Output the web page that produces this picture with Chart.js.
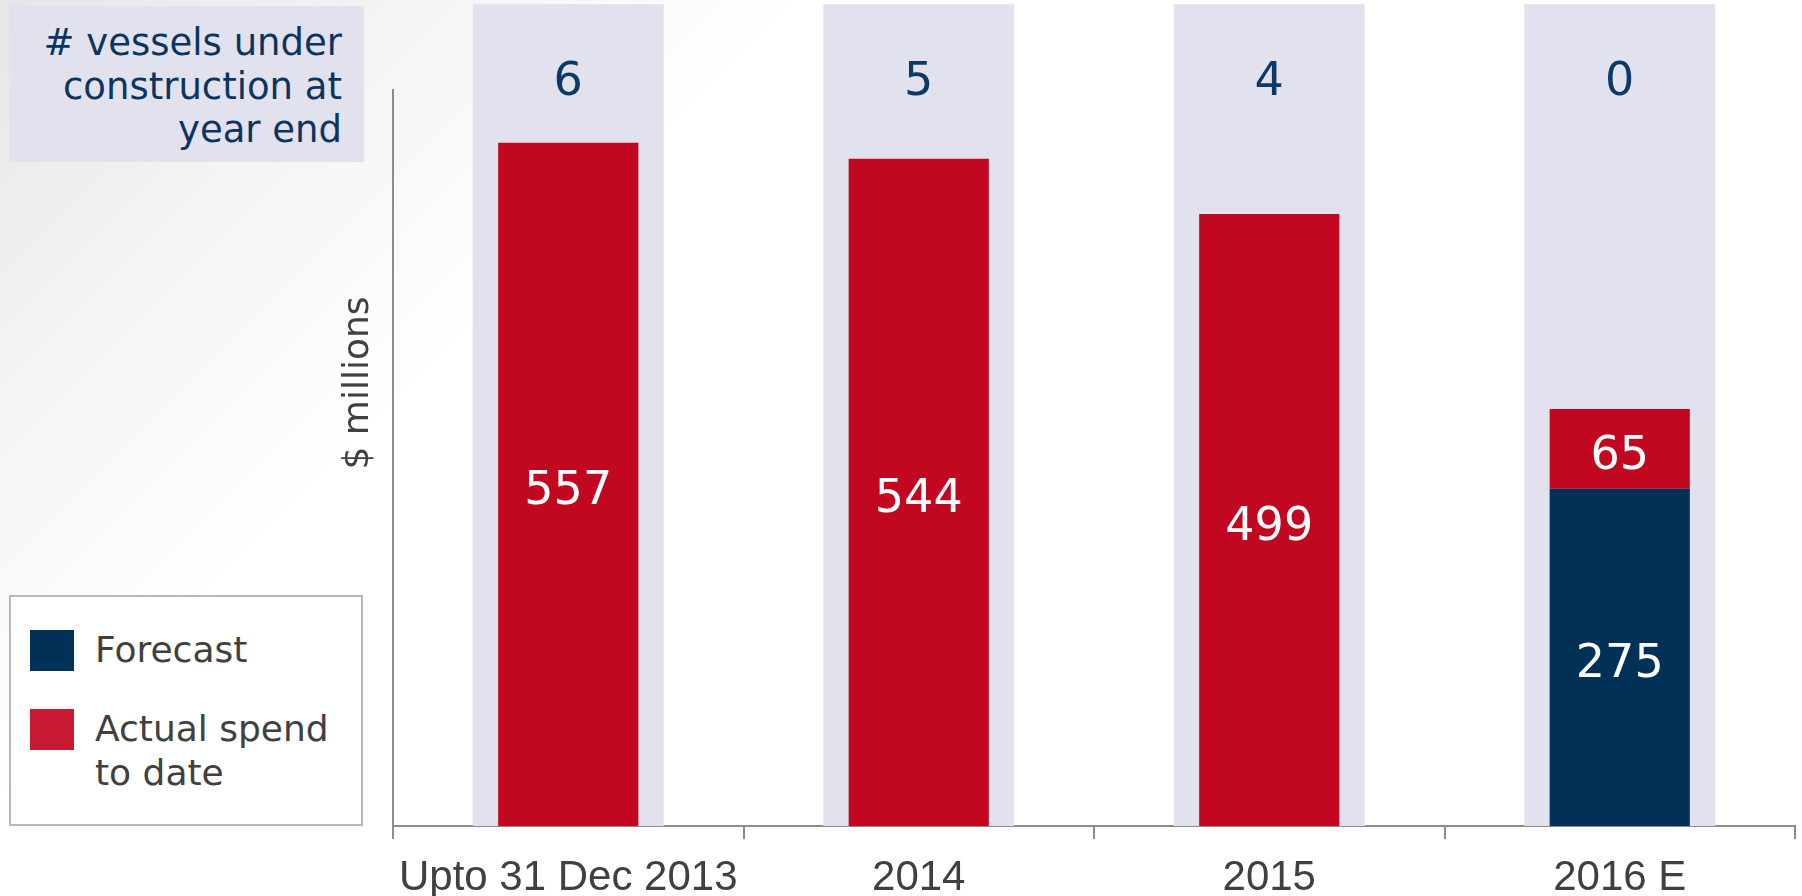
<!DOCTYPE html>
<html><head><meta charset="utf-8">
<script src="https://cdn.jsdelivr.net/npm/chart.js@4.4.1/dist/chart.umd.min.js"></script>
<style>
html,body{margin:0;padding:0;width:1802px;height:896px;overflow:hidden;}
body{background:linear-gradient(135deg,#e6e6e6 0%,#f3f3f3 14%,#ffffff 30%);font-family:"DejaVu Sans",sans-serif;position:relative;}
#c{position:absolute;left:0;top:0;}
#note{position:absolute;left:9px;top:6px;width:333px;height:141px;padding:15px 22px 0 0;background:#e2e2ef;color:#0b3560;font-size:37px;line-height:43.5px;text-align:right;z-index:2;}
#legend{position:absolute;left:9px;top:595px;width:350px;height:227px;border:2px solid #b8b8b8;background:#ffffff;z-index:2;}
.item{position:absolute;left:0;width:350px;}
.sw{position:absolute;left:19px;top:2px;width:44px;height:41px;}
.tx{position:absolute;left:84px;top:0;width:250px;font-size:36px;line-height:44px;color:#404040;}
</style></head>
<body>
<canvas id="c" width="1802" height="896"></canvas>
<div id="note"></div>
<div id="legend"></div>
<script>
const categories = ['Upto 31 Dec 2013', '2014', '2015', '2016 E'];
const forecast = [null, null, null, 275];
const actualSpend = [557, 544, 499, 65];
const vesselsUnderConstruction = [6, 5, 4, 0];
const bandValues = [670, 670, 670, 670];
const seriesLabels = ['Forecast', 'Actual spend to date'];
const seriesColors = ['#023157', '#c10820'];
const legendColors = ['#023157', '#c81a32'];
const yTitle = '$ millions';
const noteLines = ['# vessels under', 'construction at', 'year end'];

document.getElementById('note').innerHTML = noteLines.join('<br>');
const lg = document.getElementById('legend');
seriesLabels.forEach((lab, i) => {
  const it = document.createElement('div');
  it.className = 'item';
  it.style.top = (31 + i * 79) + 'px';
  it.innerHTML = '<div class="sw" style="background:' + legendColors[i] + '"></div><div class="tx">' + lab + '</div>';
  lg.appendChild(it);
});

const labelsPlugin = {
  id: 'labelsPlugin',
  afterDatasetsDraw(chart) {
    const ctx = chart.ctx;
    const ca = chart.chartArea;
    ctx.save();
    ctx.textAlign = 'center';
    ctx.textBaseline = 'middle';
    ctx.font = '46px "DejaVu Sans"';
    ctx.fillStyle = '#ffffff';
    [0, 1].forEach(di => {
      const meta = chart.getDatasetMeta(di);
      meta.data.forEach((bar, i) => {
        const v = chart.data.datasets[di].data[i];
        if (v == null) return;
        ctx.fillText(String(v), bar.x, (bar.y + bar.base) / 2 + 8);
      });
    });
    const bg = chart.getDatasetMeta(2);
    ctx.fillStyle = '#0b3a66';
    bg.data.forEach((bar, i) => {
      ctx.fillText(String(vesselsUnderConstruction[i]), bar.x, ca.top - 7);
    });
    ctx.translate(ca.left - 34, (ca.top + ca.bottom) / 2 - 75);
    ctx.rotate(-Math.PI / 2);
    ctx.font = '36px "DejaVu Sans"';
    ctx.fillStyle = '#404040';
    ctx.fillText(yTitle, 0, 0);
    ctx.restore();
  }
};

new Chart(document.getElementById('c'), {
  type: 'bar',
  data: {
    labels: categories,
    datasets: [
      { label: seriesLabels[0], data: forecast, backgroundColor: seriesColors[0], stack: 'main', grouped: false, categoryPercentage: 1, barPercentage: 0.40, borderWidth: 0 },
      { label: seriesLabels[1], data: actualSpend, backgroundColor: seriesColors[1], stack: 'main', grouped: false, categoryPercentage: 1, barPercentage: 0.40, borderWidth: 0 },
      { label: 'band', data: bandValues, backgroundColor: '#e2e2ef', stack: 'bg', grouped: false, categoryPercentage: 1, barPercentage: 0.545, borderWidth: 0, clip: false }
    ]
  },
  options: {
    responsive: false,
    devicePixelRatio: 1,
    animation: false,
    events: [],
    layout: { padding: { left: 393, right: 7, top: 90, bottom: 0 } },
    plugins: { legend: { display: false }, tooltip: { enabled: false } },
    scales: {
      x: {
        stacked: true,
        offset: true,
        grid: { display: true, drawOnChartArea: false, drawTicks: true, tickLength: 13, color: '#8c8c8c', lineWidth: 2, offset: true },
        border: { display: true, color: '#8c8c8c', width: 2 },
        ticks: { color: '#404040', font: { family: 'Liberation Sans', size: 42 }, padding: 14, maxRotation: 0, autoSkip: false },
        afterFit(s) { s.height = 70; }
      },
      y: {
        stacked: true,
        min: 0, max: 600,
        grid: { display: false, drawTicks: false },
        border: { display: true, color: '#8c8c8c', width: 2 },
        ticks: { display: false },
        afterFit(s) { s.width = 0; }
      }
    }
  },
  plugins: [labelsPlugin]
});
</script>
</body></html>
